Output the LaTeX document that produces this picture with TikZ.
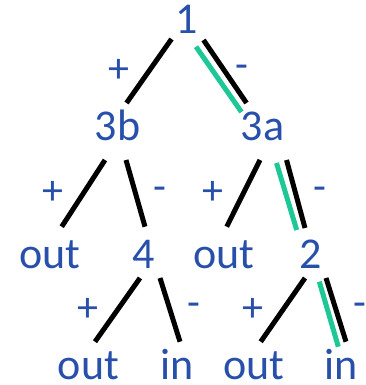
\documentclass[tikz,border=0pt]{standalone}
\usepackage{fontspec}
\setmainfont{Carlito}
\usepackage{xcolor}

\definecolor{labelblue}{RGB}{40,80,170}
\definecolor{pathgreen}{RGB}{30,200,150}

\begin{document}
\begin{tikzpicture}[
    x=1pt, y=-1pt,
    lbl/.style={text=labelblue, inner sep=0pt, anchor=base, font=\fontsize{44}{52}\selectfont},
    sgn/.style={text=labelblue, inner sep=0pt, font=\fontsize{42}{50}\selectfont},
    plus/.style={sgn, midway, xshift=-30pt},
    minus/.style={sgn, midway, xshift=24pt},
    branch/.style={line width=5pt},
    taken/.style={line width=5pt, draw=pathgreen}
  ]
  \useasboundingbox (0,0) rectangle (366,385);

  \node[lbl] (n1) at (186.5,34) {1};
  \node[lbl] (n3b) at (117.5,140) {3b};
  \node[lbl] (n3a) at (262.5,140) {3a};
  \node[lbl] (out1) at (50,268) {out};
  \node[lbl] (n4) at (144,268) {4};
  \node[lbl] (out2) at (224,268) {out};
  \node[lbl] (n2) at (311,268) {2};
  \node[lbl] (out3) at (88.5,379) {out};
  \node[lbl] (in1) at (177.5,379) {in};
  \node[lbl] (out4) at (254,379) {out};
  \node[lbl] (in2) at (341,379) {in};

  % top split
  \draw[branch] ([shift={(-15,5)}]n1.base) -- node[plus]{+} ([shift={(9,-37)}]n3b.base);
  \draw[branch] ([shift={(17,6)}]n1.base) -- node[minus, xshift=-7pt]{-} ([shift={(-16,-37)}]n3a.base);
  \draw[taken] ([shift={(9.5,12.7)}]n1.base) -- ([shift={(-21,-28)}]n3a.base);

  % second level
  \draw[branch] ([shift={(-12.5,20)}]n3b.base) -- node[plus]{+} ([shift={(11.7,-41.3)}]out1.base);
  \draw[branch] ([shift={(8.5,20)}]n3b.base) -- node[minus]{-} ([shift={(1,-41.3)}]n4.base);
  \draw[branch] ([shift={(-2.5,20)}]n3a.base) -- node[plus]{+} ([shift={(2.7,-41.3)}]out2.base);
  \draw[branch] ([shift={(24,20)}]n3a.base) -- node[minus]{-} ([shift={(-6,-40)}]n2.base);
  \draw[taken] ([shift={(14,23)}]n3a.base) -- ([shift={(-14.3,-38)}]n2.base);

  % third level
  \draw[branch] ([shift={(-4,10)}]n4.base) -- node[plus]{+} ([shift={(6.5,-37.3)}]out3.base);
  \draw[branch] ([shift={(16,10)}]n4.base) -- node[minus]{-} ([shift={(2.5,-37.3)}]in1.base);
  \draw[branch] ([shift={(-6,10)}]n2.base) -- node[plus]{+} ([shift={(6.7,-37.3)}]out4.base);
  \draw[branch] ([shift={(15,10)}]n2.base) -- node[minus]{-} ([shift={(5,-37.3)}]in2.base);
  \draw[taken] ([shift={(8.3,13.7)}]n2.base) -- ([shift={(-2.7,-32.3)}]in2.base);
\end{tikzpicture}
\end{document}
